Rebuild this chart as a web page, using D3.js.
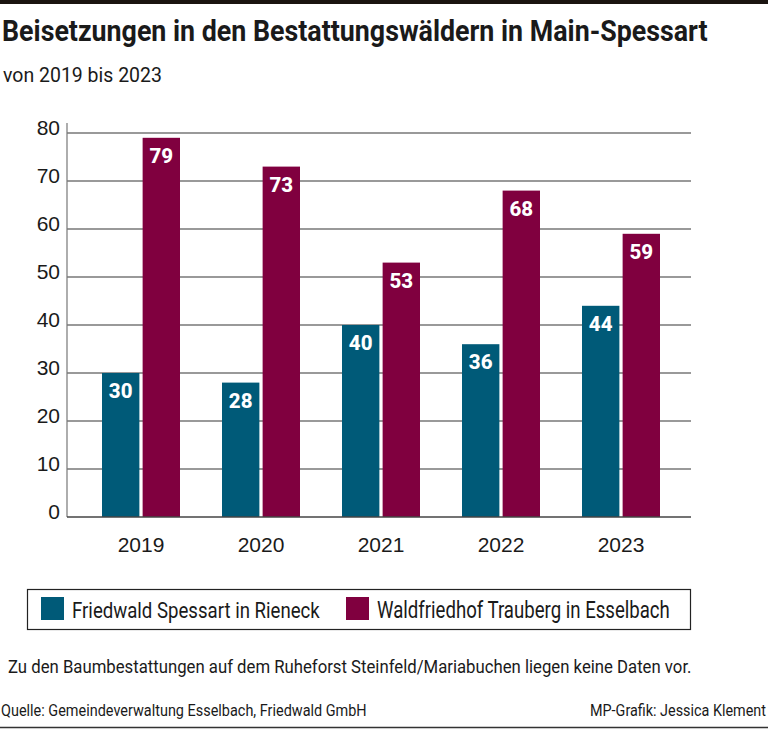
<!DOCTYPE html>
<html>
<head>
<meta charset="utf-8">
<title>Beisetzungen in den Bestattungswäldern in Main-Spessart</title>
<script src="https://cdn.jsdelivr.net/npm/d3@7"></script>
<style>
  body { margin: 0; background: #fff; }
  svg { display: block; }
  text { font-family: Roboto, "Noto Sans", sans-serif; fill: #1a1a1a; }
  .tick text { font-family: "Liberation Sans", Arial, sans-serif; }
</style>
</head>
<body>
<svg id="chart" width="768" height="730"></svg>
<script>
// data
const years = ["2019", "2020", "2021", "2022", "2023"];
const seriesNames = ["Friedwald Spessart in Rieneck", "Waldfriedhof Trauberg in Esselbach"];
const friedwald = [30, 28, 40, 36, 44];
const waldfriedhof = [79, 73, 53, 68, 59];
const yTicks = [0, 10, 20, 30, 40, 50, 60, 70, 80];
const colors = ["#005a78", "#80003f"];

const rows = years.map((y, i) => ({ year: y, values: [friedwald[i], waldfriedhof[i]] }));

const svg = d3.select("#chart");

// condensed-looking text: squeeze horizontally to a given width
function narrowText(parent, str, x, y, size, width, weight, anchor) {
  const t = parent.append("text")
    .attr("font-size", size)
    .attr("font-weight", weight || 400)
    .text(str);
  const len = t.node().getComputedTextLength();
  const k = Math.min(1, width / len);
  const x0 = anchor === "end" ? x - len * k : x;
  t.attr("transform", `translate(${x0},${y}) scale(${k},1)`);
  return t;
}

// top bar and bottom rule
svg.append("rect").attr("x", 0).attr("y", 0).attr("width", 768).attr("height", 4).attr("fill", "#1a1410");
svg.append("line").attr("x1", 0).attr("x2", 768).attr("y1", 727.5).attr("y2", 727.5)
  .attr("stroke", "#333").attr("stroke-width", 1.5);

// title + subtitle
narrowText(svg, "Beisetzungen in den Bestattungswäldern in Main-Spessart", 2, 41, 29, 706, 700);
narrowText(svg, "von 2019 bis 2023", 3, 82, 21, 159);

// scales
const x0 = d3.scaleBand().domain(years).range([81, 681]).padding(0);
const x1 = d3.scaleBand().domain([0, 1]).range([21, 99]).paddingInner(0.08);
const y = d3.scaleLinear().domain([0, 80]).range([517, 133]);

// gridlines
svg.append("g")
  .selectAll("line")
  .data(yTicks.filter(d => d > 0))
  .join("line")
  .attr("x1", 67).attr("x2", 691)
  .attr("y1", d => y(d)).attr("y2", d => y(d))
  .attr("stroke", "#777").attr("stroke-width", 1.5);

// y axis
const yAxis = svg.append("g")
  .attr("transform", "translate(67,0)")
  .call(d3.axisLeft(y).tickValues(yTicks).tickSize(0).tickPadding(7));
yAxis.select(".domain").remove();
yAxis.selectAll(".tick text").attr("font-size", 21).attr("fill", "#1a1a1a").attr("dy", "0.05em");
svg.append("line").attr("x1", 67).attr("x2", 67).attr("y1", 123).attr("y2", 517)
  .attr("stroke", "#777").attr("stroke-width", 1.2);

// bars
const groups = svg.append("g")
  .selectAll("g")
  .data(rows)
  .join("g")
  .attr("transform", d => `translate(${x0(d.year)},0)`);

groups.selectAll("rect")
  .data(d => d.values)
  .join("rect")
  .attr("x", (d, i) => x1(i))
  .attr("width", x1.bandwidth())
  .attr("y", d => y(d))
  .attr("height", d => y(0) - y(d))
  .attr("fill", (d, i) => colors[i]);

groups.selectAll("text.val")
  .data(d => d.values)
  .join("text")
  .attr("class", "val")
  .attr("x", (d, i) => x1(i) + x1.bandwidth() / 2)
  .attr("y", d => y(d) + 25)
  .attr("text-anchor", "middle")
  .attr("font-family", "'Open Sans', sans-serif")
  .attr("font-size", 20.5).attr("font-weight", 800)
  .style("fill", "#fff")
  .text(d => d);

// baseline
svg.append("line").attr("x1", 67).attr("x2", 691).attr("y1", y(0)).attr("y2", y(0))
  .attr("stroke", "#444").attr("stroke-width", 1.5);

// x axis labels
const xAxis = svg.append("g")
  .attr("transform", `translate(0,${y(0)})`)
  .call(d3.axisBottom(x0).tickSize(0).tickPadding(20));
xAxis.select(".domain").remove();
xAxis.selectAll(".tick text").attr("font-size", 21).attr("fill", "#1a1a1a");

// legend
const legend = svg.append("g");
legend.append("rect").attr("x", 27.5).attr("y", 589.5).attr("width", 663).attr("height", 40)
  .attr("fill", "none").attr("stroke", "#222").attr("stroke-width", 1.2);
const legX = [41, 346];
const legW = [248, 293];
seriesNames.forEach((name, i) => {
  legend.append("rect").attr("x", legX[i]).attr("y", 597).attr("width", 23).attr("height", 23)
    .attr("fill", colors[i]);
  narrowText(legend, name, legX[i] + 31, 618, 23, legW[i]);
});

// note and footer
narrowText(svg, "Zu den Baumbestattungen auf dem Ruheforst Steinfeld/Mariabuchen liegen keine Daten vor.", 8, 673, 19, 684);
narrowText(svg, "Quelle: Gemeindeverwaltung Esselbach, Friedwald GmbH", 1, 716, 16.5, 366);
narrowText(svg, "MP-Grafik: Jessica Klement", 766, 716, 16.5, 176, 400, "end");
</script>
</body>
</html>
